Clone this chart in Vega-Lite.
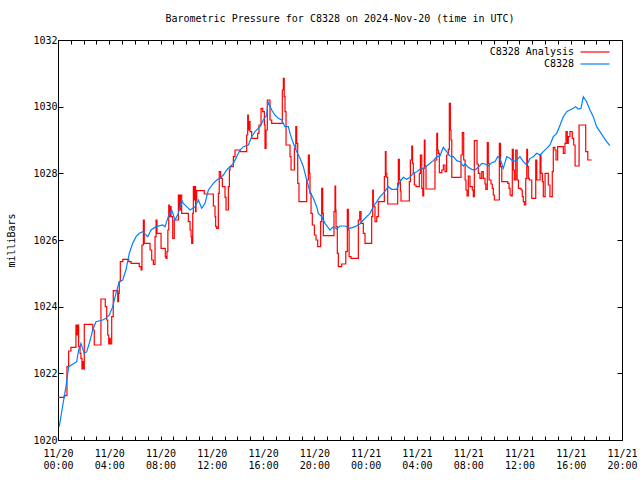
{
  "$schema": "https://vega.github.io/schema/vega-lite/v6.json",
  "width": 564,
  "height": 400,
  "autosize": "none",
  "padding": {"left": 58, "top": 40, "right": 18, "bottom": 40},
  "background": "white",
  "title": {"text": "Barometric Pressure for C8328 on 2024-Nov-20 (time in UTC)", "anchor": "middle", "font": "DejaVu Sans Mono", "fontSize": 10, "fontWeight": "normal", "color": "black", "offset": 11},
  "config": {
    "view": {"stroke": "black", "strokeWidth": 1},
    "axis": {"labelFont": "DejaVu Sans Mono", "labelFontSize": 10, "labelColor": "black", "titleFont": "DejaVu Sans Mono", "titleFontSize": 10, "titleFontWeight": "normal", "titleColor": "black", "tickColor": "black", "domainColor": "black", "grid": false, "labelOverlap": false, "labelFlush": false}
  },
  "datasets": {
    "analysis": [
      {"h":0.00,"p":1021.28,"s":"C8328 Analysis"},{"h":0.49,"p":1021.33,"s":"C8328 Analysis"},{"h":0.70,"p":1022.2,"s":"C8328 Analysis"},{"h":0.83,"p":1022.67,"s":"C8328 Analysis"},{"h":1.01,"p":1022.78,"s":"C8328 Analysis"},{"h":1.40,"p":1023.45,"s":"C8328 Analysis"},{"h":1.46,"p":1023.15,"s":"C8328 Analysis"},{"h":1.54,"p":1023.45,"s":"C8328 Analysis"},{"h":1.61,"p":1022.8,"s":"C8328 Analysis"},{"h":1.72,"p":1022.6,"s":"C8328 Analysis"},{"h":1.79,"p":1022.45,"s":"C8328 Analysis"},{"h":1.87,"p":1022.13,"s":"C8328 Analysis"},{"h":1.93,"p":1022.35,"s":"C8328 Analysis"},{"h":1.97,"p":1022.13,"s":"C8328 Analysis"},{"h":2.05,"p":1023.47,"s":"C8328 Analysis"},{"h":2.71,"p":1023.3,"s":"C8328 Analysis"},{"h":2.83,"p":1022.85,"s":"C8328 Analysis"},{"h":3.35,"p":1024.23,"s":"C8328 Analysis"},{"h":3.69,"p":1024.0,"s":"C8328 Analysis"},{"h":3.80,"p":1023.6,"s":"C8328 Analysis"},{"h":3.88,"p":1023.15,"s":"C8328 Analysis"},{"h":3.96,"p":1022.88,"s":"C8328 Analysis"},{"h":4.00,"p":1023.05,"s":"C8328 Analysis"},{"h":4.08,"p":1022.88,"s":"C8328 Analysis"},{"h":4.19,"p":1023.7,"s":"C8328 Analysis"},{"h":4.31,"p":1024.48,"s":"C8328 Analysis"},{"h":4.66,"p":1024.15,"s":"C8328 Analysis"},{"h":4.72,"p":1024.4,"s":"C8328 Analysis"},{"h":4.78,"p":1024.75,"s":"C8328 Analysis"},{"h":4.86,"p":1025.35,"s":"C8328 Analysis"},{"h":5.05,"p":1025.42,"s":"C8328 Analysis"},{"h":5.52,"p":1025.35,"s":"C8328 Analysis"},{"h":5.70,"p":1025.3,"s":"C8328 Analysis"},{"h":6.34,"p":1025.2,"s":"C8328 Analysis"},{"h":6.48,"p":1025.1,"s":"C8328 Analysis"},{"h":6.55,"p":1025.85,"s":"C8328 Analysis"},{"h":6.66,"p":1026.6,"s":"C8328 Analysis"},{"h":6.73,"p":1025.9,"s":"C8328 Analysis"},{"h":7.18,"p":1025.7,"s":"C8328 Analysis"},{"h":7.31,"p":1025.4,"s":"C8328 Analysis"},{"h":7.44,"p":1025.27,"s":"C8328 Analysis"},{"h":7.57,"p":1026.1,"s":"C8328 Analysis"},{"h":7.65,"p":1026.6,"s":"C8328 Analysis"},{"h":7.72,"p":1026.2,"s":"C8328 Analysis"},{"h":8.04,"p":1025.75,"s":"C8328 Analysis"},{"h":8.37,"p":1025.5,"s":"C8328 Analysis"},{"h":8.43,"p":1025.45,"s":"C8328 Analysis"},{"h":8.50,"p":1025.65,"s":"C8328 Analysis"},{"h":8.57,"p":1026.3,"s":"C8328 Analysis"},{"h":8.64,"p":1027.05,"s":"C8328 Analysis"},{"h":8.69,"p":1026.7,"s":"C8328 Analysis"},{"h":8.74,"p":1027.0,"s":"C8328 Analysis"},{"h":8.82,"p":1026.7,"s":"C8328 Analysis"},{"h":8.95,"p":1026.05,"s":"C8328 Analysis"},{"h":9.07,"p":1026.6,"s":"C8328 Analysis"},{"h":9.39,"p":1027.35,"s":"C8328 Analysis"},{"h":9.47,"p":1026.9,"s":"C8328 Analysis"},{"h":9.55,"p":1027.35,"s":"C8328 Analysis"},{"h":9.65,"p":1026.8,"s":"C8328 Analysis"},{"h":10.17,"p":1026.55,"s":"C8328 Analysis"},{"h":10.30,"p":1026.3,"s":"C8328 Analysis"},{"h":10.38,"p":1026.1,"s":"C8328 Analysis"},{"h":10.43,"p":1025.9,"s":"C8328 Analysis"},{"h":10.51,"p":1026.8,"s":"C8328 Analysis"},{"h":10.56,"p":1027.6,"s":"C8328 Analysis"},{"h":10.64,"p":1027.2,"s":"C8328 Analysis"},{"h":10.69,"p":1027.6,"s":"C8328 Analysis"},{"h":10.73,"p":1026.85,"s":"C8328 Analysis"},{"h":10.77,"p":1027.2,"s":"C8328 Analysis"},{"h":10.82,"p":1027.48,"s":"C8328 Analysis"},{"h":11.41,"p":1027.38,"s":"C8328 Analysis"},{"h":12.12,"p":1027.02,"s":"C8328 Analysis"},{"h":12.25,"p":1026.7,"s":"C8328 Analysis"},{"h":12.30,"p":1026.4,"s":"C8328 Analysis"},{"h":12.38,"p":1026.35,"s":"C8328 Analysis"},{"h":12.51,"p":1027.4,"s":"C8328 Analysis"},{"h":12.58,"p":1028.05,"s":"C8328 Analysis"},{"h":12.69,"p":1027.85,"s":"C8328 Analysis"},{"h":12.82,"p":1027.6,"s":"C8328 Analysis"},{"h":13.03,"p":1027.28,"s":"C8328 Analysis"},{"h":13.11,"p":1026.9,"s":"C8328 Analysis"},{"h":13.29,"p":1027.6,"s":"C8328 Analysis"},{"h":13.37,"p":1028.1,"s":"C8328 Analysis"},{"h":13.42,"p":1028.2,"s":"C8328 Analysis"},{"h":13.68,"p":1028.5,"s":"C8328 Analysis"},{"h":13.81,"p":1028.7,"s":"C8328 Analysis"},{"h":14.20,"p":1028.65,"s":"C8328 Analysis"},{"h":14.72,"p":1029.15,"s":"C8328 Analysis"},{"h":14.80,"p":1029.75,"s":"C8328 Analysis"},{"h":14.85,"p":1029.3,"s":"C8328 Analysis"},{"h":14.90,"p":1029.55,"s":"C8328 Analysis"},{"h":14.98,"p":1029.25,"s":"C8328 Analysis"},{"h":15.11,"p":1029.05,"s":"C8328 Analysis"},{"h":15.58,"p":1029.2,"s":"C8328 Analysis"},{"h":15.68,"p":1029.45,"s":"C8328 Analysis"},{"h":15.84,"p":1029.95,"s":"C8328 Analysis"},{"h":15.97,"p":1029.85,"s":"C8328 Analysis"},{"h":16.10,"p":1029.45,"s":"C8328 Analysis"},{"h":16.15,"p":1028.75,"s":"C8328 Analysis"},{"h":16.23,"p":1029.3,"s":"C8328 Analysis"},{"h":16.33,"p":1030.2,"s":"C8328 Analysis"},{"h":16.54,"p":1029.6,"s":"C8328 Analysis"},{"h":16.67,"p":1029.5,"s":"C8328 Analysis"},{"h":17.50,"p":1030.5,"s":"C8328 Analysis"},{"h":17.58,"p":1030.85,"s":"C8328 Analysis"},{"h":17.65,"p":1030.3,"s":"C8328 Analysis"},{"h":17.71,"p":1029.85,"s":"C8328 Analysis"},{"h":17.79,"p":1028.85,"s":"C8328 Analysis"},{"h":18.10,"p":1028.5,"s":"C8328 Analysis"},{"h":18.18,"p":1028.1,"s":"C8328 Analysis"},{"h":18.44,"p":1028.75,"s":"C8328 Analysis"},{"h":18.55,"p":1029.4,"s":"C8328 Analysis"},{"h":18.62,"p":1028.9,"s":"C8328 Analysis"},{"h":18.70,"p":1027.7,"s":"C8328 Analysis"},{"h":18.80,"p":1027.15,"s":"C8328 Analysis"},{"h":19.40,"p":1027.8,"s":"C8328 Analysis"},{"h":19.53,"p":1028.55,"s":"C8328 Analysis"},{"h":19.61,"p":1028.0,"s":"C8328 Analysis"},{"h":19.66,"p":1027.4,"s":"C8328 Analysis"},{"h":19.74,"p":1026.8,"s":"C8328 Analysis"},{"h":19.84,"p":1026.45,"s":"C8328 Analysis"},{"h":20.00,"p":1026.15,"s":"C8328 Analysis"},{"h":20.13,"p":1026.0,"s":"C8328 Analysis"},{"h":20.26,"p":1025.8,"s":"C8328 Analysis"},{"h":20.49,"p":1026.55,"s":"C8328 Analysis"},{"h":20.57,"p":1027.55,"s":"C8328 Analysis"},{"h":20.65,"p":1026.8,"s":"C8328 Analysis"},{"h":20.70,"p":1026.13,"s":"C8328 Analysis"},{"h":21.53,"p":1026.85,"s":"C8328 Analysis"},{"h":21.61,"p":1027.62,"s":"C8328 Analysis"},{"h":21.66,"p":1026.9,"s":"C8328 Analysis"},{"h":21.69,"p":1026.4,"s":"C8328 Analysis"},{"h":21.79,"p":1025.6,"s":"C8328 Analysis"},{"h":21.87,"p":1025.2,"s":"C8328 Analysis"},{"h":22.13,"p":1025.28,"s":"C8328 Analysis"},{"h":22.45,"p":1025.65,"s":"C8328 Analysis"},{"h":22.57,"p":1026.92,"s":"C8328 Analysis"},{"h":22.65,"p":1026.3,"s":"C8328 Analysis"},{"h":22.71,"p":1025.5,"s":"C8328 Analysis"},{"h":22.86,"p":1025.45,"s":"C8328 Analysis"},{"h":23.43,"p":1026.6,"s":"C8328 Analysis"},{"h":23.54,"p":1026.85,"s":"C8328 Analysis"},{"h":23.64,"p":1026.5,"s":"C8328 Analysis"},{"h":23.82,"p":1026.2,"s":"C8328 Analysis"},{"h":23.95,"p":1025.9,"s":"C8328 Analysis"},{"h":24.47,"p":1026.7,"s":"C8328 Analysis"},{"h":24.55,"p":1027.5,"s":"C8328 Analysis"},{"h":24.60,"p":1027.0,"s":"C8328 Analysis"},{"h":24.73,"p":1026.55,"s":"C8328 Analysis"},{"h":24.87,"p":1026.7,"s":"C8328 Analysis"},{"h":24.99,"p":1027.15,"s":"C8328 Analysis"},{"h":25.46,"p":1027.9,"s":"C8328 Analysis"},{"h":25.54,"p":1028.65,"s":"C8328 Analysis"},{"h":25.59,"p":1028.0,"s":"C8328 Analysis"},{"h":25.65,"p":1027.88,"s":"C8328 Analysis"},{"h":25.72,"p":1027.08,"s":"C8328 Analysis"},{"h":26.50,"p":1027.7,"s":"C8328 Analysis"},{"h":26.55,"p":1028.42,"s":"C8328 Analysis"},{"h":26.63,"p":1027.8,"s":"C8328 Analysis"},{"h":26.71,"p":1027.47,"s":"C8328 Analysis"},{"h":26.76,"p":1027.17,"s":"C8328 Analysis"},{"h":27.41,"p":1027.75,"s":"C8328 Analysis"},{"h":27.49,"p":1028.4,"s":"C8328 Analysis"},{"h":27.60,"p":1028.82,"s":"C8328 Analysis"},{"h":27.66,"p":1028.3,"s":"C8328 Analysis"},{"h":27.72,"p":1028.0,"s":"C8328 Analysis"},{"h":27.80,"p":1027.65,"s":"C8328 Analysis"},{"h":27.93,"p":1027.6,"s":"C8328 Analysis"},{"h":28.19,"p":1028.0,"s":"C8328 Analysis"},{"h":28.27,"p":1028.55,"s":"C8328 Analysis"},{"h":28.38,"p":1027.55,"s":"C8328 Analysis"},{"h":28.46,"p":1027.32,"s":"C8328 Analysis"},{"h":28.53,"p":1028.15,"s":"C8328 Analysis"},{"h":28.58,"p":1029.0,"s":"C8328 Analysis"},{"h":28.63,"p":1028.22,"s":"C8328 Analysis"},{"h":28.71,"p":1027.53,"s":"C8328 Analysis"},{"h":29.41,"p":1028.4,"s":"C8328 Analysis"},{"h":29.55,"p":1029.2,"s":"C8328 Analysis"},{"h":29.61,"p":1028.7,"s":"C8328 Analysis"},{"h":29.67,"p":1028.6,"s":"C8328 Analysis"},{"h":29.75,"p":1028.02,"s":"C8328 Analysis"},{"h":29.94,"p":1028.1,"s":"C8328 Analysis"},{"h":30.06,"p":1028.25,"s":"C8328 Analysis"},{"h":30.19,"p":1028.05,"s":"C8328 Analysis"},{"h":30.32,"p":1028.55,"s":"C8328 Analysis"},{"h":30.45,"p":1028.72,"s":"C8328 Analysis"},{"h":30.53,"p":1030.1,"s":"C8328 Analysis"},{"h":30.61,"p":1029.3,"s":"C8328 Analysis"},{"h":30.66,"p":1029.0,"s":"C8328 Analysis"},{"h":30.72,"p":1027.88,"s":"C8328 Analysis"},{"h":31.44,"p":1028.55,"s":"C8328 Analysis"},{"h":31.54,"p":1029.22,"s":"C8328 Analysis"},{"h":31.65,"p":1028.4,"s":"C8328 Analysis"},{"h":31.76,"p":1027.8,"s":"C8328 Analysis"},{"h":31.83,"p":1027.5,"s":"C8328 Analysis"},{"h":31.91,"p":1027.32,"s":"C8328 Analysis"},{"h":32.01,"p":1027.92,"s":"C8328 Analysis"},{"h":32.14,"p":1027.6,"s":"C8328 Analysis"},{"h":32.32,"p":1027.5,"s":"C8328 Analysis"},{"h":32.40,"p":1027.3,"s":"C8328 Analysis"},{"h":32.48,"p":1028.98,"s":"C8328 Analysis"},{"h":32.69,"p":1028.28,"s":"C8328 Analysis"},{"h":32.79,"p":1028.0,"s":"C8328 Analysis"},{"h":32.92,"p":1027.85,"s":"C8328 Analysis"},{"h":33.06,"p":1028.05,"s":"C8328 Analysis"},{"h":33.18,"p":1027.85,"s":"C8328 Analysis"},{"h":33.31,"p":1027.68,"s":"C8328 Analysis"},{"h":33.38,"p":1027.52,"s":"C8328 Analysis"},{"h":33.49,"p":1028.92,"s":"C8328 Analysis"},{"h":33.57,"p":1028.3,"s":"C8328 Analysis"},{"h":33.63,"p":1027.8,"s":"C8328 Analysis"},{"h":33.78,"p":1027.68,"s":"C8328 Analysis"},{"h":33.88,"p":1027.55,"s":"C8328 Analysis"},{"h":33.96,"p":1027.35,"s":"C8328 Analysis"},{"h":34.04,"p":1027.2,"s":"C8328 Analysis"},{"h":34.43,"p":1028.9,"s":"C8328 Analysis"},{"h":34.52,"p":1028.2,"s":"C8328 Analysis"},{"h":34.62,"p":1027.75,"s":"C8328 Analysis"},{"h":35.09,"p":1027.7,"s":"C8328 Analysis"},{"h":35.19,"p":1027.55,"s":"C8328 Analysis"},{"h":35.27,"p":1027.35,"s":"C8328 Analysis"},{"h":35.34,"p":1027.32,"s":"C8328 Analysis"},{"h":35.44,"p":1028.72,"s":"C8328 Analysis"},{"h":35.52,"p":1028.1,"s":"C8328 Analysis"},{"h":35.60,"p":1027.8,"s":"C8328 Analysis"},{"h":35.71,"p":1028.7,"s":"C8328 Analysis"},{"h":35.82,"p":1027.8,"s":"C8328 Analysis"},{"h":35.92,"p":1027.55,"s":"C8328 Analysis"},{"h":36.13,"p":1027.5,"s":"C8328 Analysis"},{"h":36.22,"p":1027.3,"s":"C8328 Analysis"},{"h":36.30,"p":1027.15,"s":"C8328 Analysis"},{"h":36.38,"p":1027.05,"s":"C8328 Analysis"},{"h":36.49,"p":1027.85,"s":"C8328 Analysis"},{"h":36.57,"p":1028.72,"s":"C8328 Analysis"},{"h":36.63,"p":1028.2,"s":"C8328 Analysis"},{"h":36.69,"p":1027.85,"s":"C8328 Analysis"},{"h":36.77,"p":1027.8,"s":"C8328 Analysis"},{"h":36.96,"p":1027.25,"s":"C8328 Analysis"},{"h":37.27,"p":1028.4,"s":"C8328 Analysis"},{"h":37.35,"p":1027.8,"s":"C8328 Analysis"},{"h":37.61,"p":1028.55,"s":"C8328 Analysis"},{"h":37.68,"p":1028.0,"s":"C8328 Analysis"},{"h":37.79,"p":1027.75,"s":"C8328 Analysis"},{"h":37.86,"p":1027.3,"s":"C8328 Analysis"},{"h":38.00,"p":1028.0,"s":"C8328 Analysis"},{"h":38.25,"p":1027.65,"s":"C8328 Analysis"},{"h":38.38,"p":1027.3,"s":"C8328 Analysis"},{"h":38.56,"p":1028.05,"s":"C8328 Analysis"},{"h":38.64,"p":1028.78,"s":"C8328 Analysis"},{"h":38.77,"p":1028.7,"s":"C8328 Analysis"},{"h":38.85,"p":1028.4,"s":"C8328 Analysis"},{"h":38.98,"p":1028.8,"s":"C8328 Analysis"},{"h":39.42,"p":1028.6,"s":"C8328 Analysis"},{"h":39.55,"p":1028.9,"s":"C8328 Analysis"},{"h":39.63,"p":1029.25,"s":"C8328 Analysis"},{"h":39.73,"p":1028.9,"s":"C8328 Analysis"},{"h":39.81,"p":1029.1,"s":"C8328 Analysis"},{"h":39.94,"p":1029.25,"s":"C8328 Analysis"},{"h":40.12,"p":1029.05,"s":"C8328 Analysis"},{"h":40.23,"p":1028.85,"s":"C8328 Analysis"},{"h":40.34,"p":1028.22,"s":"C8328 Analysis"},{"h":40.65,"p":1029.45,"s":"C8328 Analysis"},{"h":41.17,"p":1028.65,"s":"C8328 Analysis"},{"h":41.33,"p":1028.4,"s":"C8328 Analysis"},{"h":41.64,"p":1028.4,"s":"C8328 Analysis"}
    ],
    "obs": [
      {"h":0.10,"p":1020.4,"s":"C8328"},{"h":0.31,"p":1020.9,"s":"C8328"},{"h":0.62,"p":1021.6,"s":"C8328"},{"h":0.83,"p":1022.2,"s":"C8328"},{"h":1.27,"p":1022.3,"s":"C8328"},{"h":1.46,"p":1022.35,"s":"C8328"},{"h":1.61,"p":1022.7,"s":"C8328"},{"h":1.79,"p":1022.9,"s":"C8328"},{"h":2.05,"p":1022.6,"s":"C8328"},{"h":2.24,"p":1022.65,"s":"C8328"},{"h":2.44,"p":1022.9,"s":"C8328"},{"h":2.71,"p":1023.3,"s":"C8328"},{"h":2.96,"p":1023.55,"s":"C8328"},{"h":3.49,"p":1023.6,"s":"C8328"},{"h":3.74,"p":1023.65,"s":"C8328"},{"h":4.00,"p":1023.75,"s":"C8328"},{"h":4.27,"p":1024.0,"s":"C8328"},{"h":4.52,"p":1024.4,"s":"C8328"},{"h":4.78,"p":1024.75,"s":"C8328"},{"h":5.05,"p":1024.8,"s":"C8328"},{"h":5.30,"p":1025.1,"s":"C8328"},{"h":5.56,"p":1025.6,"s":"C8328"},{"h":5.83,"p":1025.9,"s":"C8328"},{"h":6.09,"p":1026.1,"s":"C8328"},{"h":6.34,"p":1026.2,"s":"C8328"},{"h":6.61,"p":1026.25,"s":"C8328"},{"h":7.00,"p":1026.1,"s":"C8328"},{"h":7.26,"p":1026.3,"s":"C8328"},{"h":7.65,"p":1026.4,"s":"C8328"},{"h":8.17,"p":1026.45,"s":"C8328"},{"h":8.35,"p":1026.4,"s":"C8328"},{"h":8.60,"p":1026.7,"s":"C8328"},{"h":8.87,"p":1026.9,"s":"C8328"},{"h":9.13,"p":1026.6,"s":"C8328"},{"h":9.39,"p":1026.8,"s":"C8328"},{"h":9.65,"p":1027.2,"s":"C8328"},{"h":9.77,"p":1027.1,"s":"C8328"},{"h":10.04,"p":1027.0,"s":"C8328"},{"h":10.30,"p":1026.9,"s":"C8328"},{"h":10.69,"p":1027.0,"s":"C8328"},{"h":10.95,"p":1027.2,"s":"C8328"},{"h":11.21,"p":1026.95,"s":"C8328"},{"h":11.47,"p":1027.1,"s":"C8328"},{"h":11.73,"p":1027.5,"s":"C8328"},{"h":12.12,"p":1027.7,"s":"C8328"},{"h":12.38,"p":1027.8,"s":"C8328"},{"h":12.64,"p":1027.85,"s":"C8328"},{"h":12.90,"p":1027.95,"s":"C8328"},{"h":13.16,"p":1028.1,"s":"C8328"},{"h":13.42,"p":1028.2,"s":"C8328"},{"h":13.68,"p":1028.3,"s":"C8328"},{"h":13.94,"p":1028.5,"s":"C8328"},{"h":14.20,"p":1028.7,"s":"C8328"},{"h":14.46,"p":1028.8,"s":"C8328"},{"h":14.85,"p":1028.85,"s":"C8328"},{"h":15.11,"p":1029.1,"s":"C8328"},{"h":15.37,"p":1029.25,"s":"C8328"},{"h":15.76,"p":1029.4,"s":"C8328"},{"h":16.02,"p":1029.6,"s":"C8328"},{"h":16.28,"p":1029.75,"s":"C8328"},{"h":16.38,"p":1030.15,"s":"C8328"},{"h":16.67,"p":1029.9,"s":"C8328"},{"h":16.93,"p":1029.75,"s":"C8328"},{"h":17.19,"p":1029.65,"s":"C8328"},{"h":17.46,"p":1029.6,"s":"C8328"},{"h":17.71,"p":1029.4,"s":"C8328"},{"h":17.97,"p":1029.4,"s":"C8328"},{"h":18.10,"p":1029.2,"s":"C8328"},{"h":18.36,"p":1028.9,"s":"C8328"},{"h":18.62,"p":1028.65,"s":"C8328"},{"h":18.88,"p":1028.45,"s":"C8328"},{"h":19.14,"p":1028.2,"s":"C8328"},{"h":19.40,"p":1027.8,"s":"C8328"},{"h":19.66,"p":1027.45,"s":"C8328"},{"h":19.92,"p":1027.25,"s":"C8328"},{"h":20.18,"p":1027.0,"s":"C8328"},{"h":20.31,"p":1026.8,"s":"C8328"},{"h":20.57,"p":1026.7,"s":"C8328"},{"h":20.83,"p":1026.5,"s":"C8328"},{"h":21.22,"p":1026.3,"s":"C8328"},{"h":21.48,"p":1026.4,"s":"C8328"},{"h":21.74,"p":1026.33,"s":"C8328"},{"h":22.00,"p":1026.42,"s":"C8328"},{"h":22.39,"p":1026.42,"s":"C8328"},{"h":22.78,"p":1026.35,"s":"C8328"},{"h":23.17,"p":1026.4,"s":"C8328"},{"h":23.56,"p":1026.48,"s":"C8328"},{"h":23.82,"p":1026.6,"s":"C8328"},{"h":24.08,"p":1026.7,"s":"C8328"},{"h":24.34,"p":1026.8,"s":"C8328"},{"h":24.60,"p":1027.0,"s":"C8328"},{"h":24.87,"p":1027.15,"s":"C8328"},{"h":25.12,"p":1027.3,"s":"C8328"},{"h":25.38,"p":1027.4,"s":"C8328"},{"h":25.77,"p":1027.6,"s":"C8328"},{"h":26.03,"p":1027.52,"s":"C8328"},{"h":26.42,"p":1027.52,"s":"C8328"},{"h":26.68,"p":1027.75,"s":"C8328"},{"h":26.94,"p":1027.88,"s":"C8328"},{"h":27.20,"p":1027.82,"s":"C8328"},{"h":27.46,"p":1027.88,"s":"C8328"},{"h":27.72,"p":1028.0,"s":"C8328"},{"h":27.99,"p":1028.05,"s":"C8328"},{"h":28.24,"p":1028.12,"s":"C8328"},{"h":28.50,"p":1028.15,"s":"C8328"},{"h":28.77,"p":1028.22,"s":"C8328"},{"h":29.02,"p":1028.3,"s":"C8328"},{"h":29.28,"p":1028.38,"s":"C8328"},{"h":29.55,"p":1028.5,"s":"C8328"},{"h":29.80,"p":1028.52,"s":"C8328"},{"h":30.06,"p":1028.78,"s":"C8328"},{"h":30.32,"p":1028.65,"s":"C8328"},{"h":30.58,"p":1028.52,"s":"C8328"},{"h":30.84,"p":1028.5,"s":"C8328"},{"h":31.11,"p":1028.38,"s":"C8328"},{"h":31.36,"p":1028.35,"s":"C8328"},{"h":31.62,"p":1028.22,"s":"C8328"},{"h":31.76,"p":1028.28,"s":"C8328"},{"h":32.01,"p":1028.18,"s":"C8328"},{"h":32.27,"p":1028.12,"s":"C8328"},{"h":32.53,"p":1028.1,"s":"C8328"},{"h":32.79,"p":1028.18,"s":"C8328"},{"h":33.06,"p":1028.3,"s":"C8328"},{"h":33.31,"p":1028.28,"s":"C8328"},{"h":33.57,"p":1028.22,"s":"C8328"},{"h":33.84,"p":1028.32,"s":"C8328"},{"h":34.09,"p":1028.35,"s":"C8328"},{"h":34.30,"p":1028.5,"s":"C8328"},{"h":34.48,"p":1028.45,"s":"C8328"},{"h":34.74,"p":1028.15,"s":"C8328"},{"h":35.01,"p":1028.5,"s":"C8328"},{"h":35.26,"p":1028.45,"s":"C8328"},{"h":35.52,"p":1028.35,"s":"C8328"},{"h":35.79,"p":1028.4,"s":"C8328"},{"h":36.04,"p":1028.5,"s":"C8328"},{"h":36.30,"p":1028.35,"s":"C8328"},{"h":36.57,"p":1028.25,"s":"C8328"},{"h":36.83,"p":1028.45,"s":"C8328"},{"h":37.08,"p":1028.5,"s":"C8328"},{"h":37.35,"p":1028.6,"s":"C8328"},{"h":37.61,"p":1028.55,"s":"C8328"},{"h":37.86,"p":1028.65,"s":"C8328"},{"h":38.13,"p":1028.75,"s":"C8328"},{"h":38.38,"p":1028.85,"s":"C8328"},{"h":38.64,"p":1029.1,"s":"C8328"},{"h":38.91,"p":1029.2,"s":"C8328"},{"h":39.17,"p":1029.45,"s":"C8328"},{"h":39.42,"p":1029.7,"s":"C8328"},{"h":39.69,"p":1029.85,"s":"C8328"},{"h":39.94,"p":1029.9,"s":"C8328"},{"h":40.20,"p":1029.95,"s":"C8328"},{"h":40.39,"p":1030.0,"s":"C8328"},{"h":40.59,"p":1029.93,"s":"C8328"},{"h":40.80,"p":1029.95,"s":"C8328"},{"h":40.98,"p":1030.3,"s":"C8328"},{"h":41.24,"p":1030.15,"s":"C8328"},{"h":41.50,"p":1029.9,"s":"C8328"},{"h":41.76,"p":1029.7,"s":"C8328"},{"h":42.02,"p":1029.4,"s":"C8328"},{"h":42.28,"p":1029.25,"s":"C8328"},{"h":42.54,"p":1029.1,"s":"C8328"},{"h":42.80,"p":1028.95,"s":"C8328"},{"h":43.06,"p":1028.83,"s":"C8328"}
    ]
  },
  "resolve": {"axis": {"x": "independent", "y": "independent"}},
  "layer": [
    {
      "data": {"name": "analysis"},
      "mark": {"type": "line", "interpolate": "step-after", "strokeWidth": 1.2, "clip": true},
      "encoding": {
        "x": {"field": "h", "type": "quantitative", "scale": {"domain": [0, 44], "nice": false, "zero": false},
          "axis": {"orient": "bottom", "title": null, "values": [0,1,2,3,4,5,6,7,8,9,10,11,12,13,14,15,16,17,18,19,20,21,22,23,24,25,26,27,28,29,30,31,32,33,34,35,36,37,38,39,40,41,42,43,44], "tickSize": -4, "labelPadding": 12, "labelAngle": 0, "labelLineHeight": 12, "labelBaseline": "top",
            "labelExpr": "datum.value % 4 == 0 ? ['11/' + (20 + floor(datum.value / 24)), (datum.value % 24 < 10 ? '0' : '') + (datum.value % 24) + ':00'] : ''"}},
        "y": {"field": "p", "type": "quantitative", "scale": {"domain": [1020, 1032], "nice": false, "zero": false},
          "axis": {"orient": "left", "title": "milliBars", "values": [1020,1022,1024,1026,1028,1030,1032], "format": "d", "tickSize": -5, "labelPadding": 6, "titlePadding": 16}},
        "color": {"field": "s", "type": "nominal", "scale": {"domain": ["C8328 Analysis", "C8328"], "range": ["#ff0000", "#0080ff"]},
          "legend": {"title": null, "orient": "none", "legendX": 522, "legendY": 6, "symbolType": "M-2.9,0H2.9", "symbolSize": 100, "symbolStrokeWidth": 1.2, "symbolOffset": 9, "labelAlign": "right", "labelOffset": -27, "labelFont": "DejaVu Sans Mono", "labelFontSize": 10, "labelColor": "black", "padding": 0, "rowPadding": 1, "labelLimit": 300}}
      }
    },
    {
      "data": {"name": "obs"},
      "mark": {"type": "line", "strokeWidth": 1.2, "clip": true},
      "encoding": {
        "x": {"field": "h", "type": "quantitative",
          "axis": {"orient": "top", "title": null, "values": [0,1,2,3,4,5,6,7,8,9,10,11,12,13,14,15,16,17,18,19,20,21,22,23,24,25,26,27,28,29,30,31,32,33,34,35,36,37,38,39,40,41,42,43,44], "tickSize": -4, "labels": false}},
        "y": {"field": "p", "type": "quantitative",
          "axis": {"orient": "right", "title": null, "values": [1020,1022,1024,1026,1028,1030,1032], "tickSize": -5, "labels": false}},
        "color": {"field": "s", "type": "nominal"}
      }
    }
  ]
}
